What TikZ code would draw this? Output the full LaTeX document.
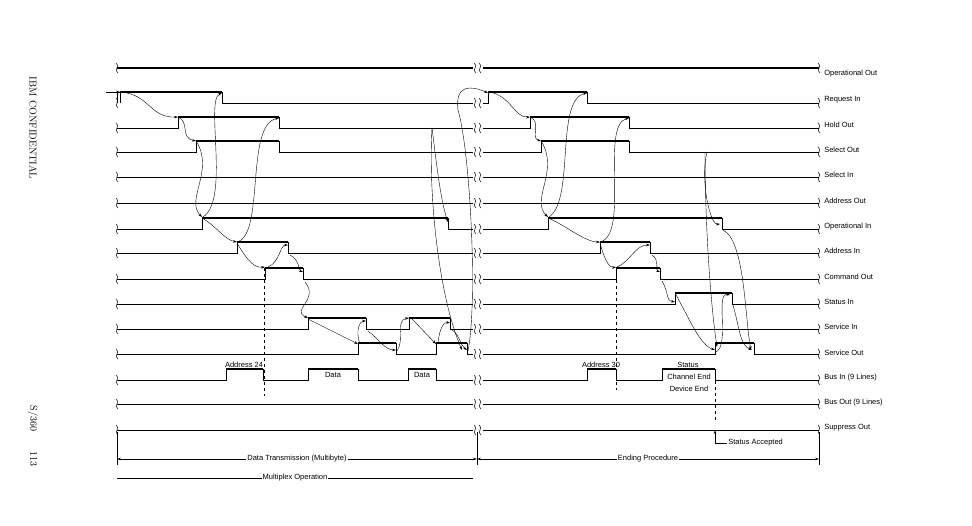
\documentclass[tikz,border=0pt]{standalone}
\usepackage{fontspec}
\setsansfont{Liberation Sans}
\usetikzlibrary{arrows.meta}

\begin{document}
\begin{tikzpicture}[x=1pt,y=-1pt,>={Stealth[length=4pt,width=2.5pt]},
  line width=0.5pt,
  lbl/.style={anchor=west,font=\sffamily\fontsize{7.5}{8}\selectfont,inner sep=1pt},
  txt/.style={font=\sffamily\fontsize{7.5}{8}\selectfont,inner sep=1pt},
  cause/.style={->,line width=0.4pt}]

\useasboundingbox (0,0) rectangle (972,526);

% break mark
\def\brk#1#2{
	\draw[line width=0.5pt] (#1-1,#2-5) .. controls (#1+4,#2-2) and (#1-4,#2+2) .. (#1+1,#2+5);
}
% signal with pulses: x start, x end, low level, list of rise/fall
\def\wave#1#2#3#4{
	\draw (#1,#3) \foreach \a/\b in {#4}{ -- (\a,#3) -- (\a,#3-11) -- (\b,#3-11) -- (\b,#3)} -- (#2,#3);
	\foreach \a/\b in {#4}{\draw[line width=1.4pt] (\a,#3-11) -- (\b,#3-11);}
}

% side texts
\node[rotate=-90,font=\fontsize{10}{11}\selectfont] (conf) at (33,128) {IBM CONFIDENTIAL};
\node[rotate=-90,font=\fontsize{10}{11}\selectfont] (page) at (33,436) {S/360\qquad 113};

% operational out
\draw[line width=1.4pt] (117,68) -- (473,68);
\draw[line width=1.4pt] (483,68) -- (819,68);

% flat lines
\foreach \y in {177,203,404,430}{
	\draw (117,\y) -- (473,\y);
	\draw (483,\y) -- (819,\y);
}

% left section
\wave{120}{473}{103}{120/222}
\draw (117,103) -- (117,92) -- (120,92);
\draw[->] (106,92) -- (120,92);
\wave{117}{473}{128}{178/279}
\wave{117}{473}{152}{196/279}
\wave{117}{473}{229}{202/448}
\wave{117}{473}{253}{237/288}
\wave{117}{473}{279}{265/303}
\wave{117}{473}{304}{}
\wave{117}{473}{329}{308/366,409/450}
\wave{117}{473}{354}{358/396,436/467}
\wave{117}{473}{380}{226/263,308/358,408/436}

% right section
\wave{483}{819}{103}{488/587}
\wave{483}{819}{128}{530/629}
\wave{483}{819}{152}{541/629}
\wave{483}{819}{229}{548/722}
\wave{483}{819}{253}{600/650}
\wave{483}{819}{279}{616/660}
\wave{483}{819}{304}{675/732}
\wave{483}{819}{329}{}
\wave{483}{819}{354}{715/754}
\wave{483}{819}{380}{587/616,662/715}

% break marks
\foreach \y in {68,103,128,152,177,203,229,253,279,304,329,354,380,404,430}{
	\brk{117}{\y}
	\brk{475}{\y}
	\brk{480}{\y}
	\brk{819}{\y}
}

% labels
\foreach \y/\t in {74/Operational Out,100/Request In,125/Hold Out,150/Select Out,
	175/Select In,201/Address Out,227/Operational In,251/Address In,277/Command Out,
	302/Status In,327/Service In,353/Service Out,378/Bus In (9 Lines),
	403/Bus Out (9 Lines),428/Suppress Out}{
	\node[lbl] at (823,\y) {\t};
}

% bus texts
\node[txt,anchor=south] at (244,369) {Address 24};
\node[txt] at (333,375) {Data};
\node[txt] at (422,375) {Data};
\node[txt,anchor=south] at (601,369) {Address 30};
\node[txt,anchor=south] at (688,369) {Status};
\node[txt] at (689,377) {Channel End};
\node[txt] at (689,389) {Device End};

% dashed markers
\draw[dashed] (264,268) -- (264,396);
\draw[dashed] (616,268) -- (616,390);
\draw[dashed] (715,381) -- (715,420);
\draw[->] (715,443) -- (715,430);
\draw (715,443) -- (727,443) node[txt,anchor=west] {Status Accepted};

% causal arrows, left
\draw[cause] (121,92) .. controls (150,95) and (150,118) .. (178,117);
\draw[cause] (178,117) .. controls (190,122) and (180,138) .. (196,141);
\draw[cause] (196,141) .. controls (215,170) and (185,200) .. (202,217);
\draw[cause] (203,217) .. controls (230,200) and (205,100) .. (222,93);
\draw[cause] (202,218) .. controls (215,225) and (225,240) .. (237,242);
\draw[cause] (237,242) .. controls (265,235) and (245,125) .. (279,118);
\draw[cause] (237,243) .. controls (248,262) and (255,268) .. (265,267);
\draw[cause] (268,267) .. controls (280,262) and (280,245) .. (288,245);
\draw[cause] (290,255) .. controls (300,260) and (298,270) .. (303,272);
\draw[cause] (305,282) .. controls (320,300) and (290,310) .. (308,318);
\draw[cause] (308,319) -- (358,344);
\draw[cause] (360,344) .. controls (355,330) and (360,321) .. (366,321);
\draw[cause] (368,331) .. controls (380,340) and (385,350) .. (396,350);
\draw[cause] (397,351) .. controls (405,340) and (395,320) .. (409,318);
\draw[cause] (412,319) -- (436,344);
\draw[cause] (438,343) .. controls (440,325) and (445,322) .. (450,323);
\draw[cause] (452,330) .. controls (460,335) and (460,345) .. (467,350);
\draw[cause] (432,128) .. controls (428,200) and (440,300) .. (462,350);
\draw[cause] (432,128) .. controls (435,150) and (440,200) .. (448,222);
\draw[cause] (468,351) .. controls (478,300) and (470,150) .. (458,110)
	.. controls (455,85) and (470,85) .. (488,93);

% causal arrows, right
\draw[cause] (489,92) .. controls (510,95) and (515,118) .. (530,117);
\draw[cause] (530,117) .. controls (542,122) and (530,138) .. (541,141);
\draw[cause] (541,141) .. controls (560,170) and (530,200) .. (548,217);
\draw[cause] (549,217) .. controls (575,200) and (555,100) .. (587,93);
\draw[cause] (548,218) .. controls (565,225) and (585,242) .. (600,242);
\draw[cause] (600,242) .. controls (630,235) and (600,125) .. (629,118);
\draw[cause] (600,243) .. controls (605,262) and (610,268) .. (616,267);
\draw[cause] (617,267) .. controls (630,262) and (635,245) .. (650,245);
\draw[cause] (652,255) .. controls (660,260) and (655,270) .. (660,272);
\draw[cause] (662,281) .. controls (670,295) and (665,300) .. (675,302);
\draw[cause] (675,293) .. controls (690,320) and (700,345) .. (715,350);
\draw[cause] (716,352) .. controls (730,345) and (715,292) .. (730,295);
\draw[cause] (733,305) .. controls (740,330) and (740,345) .. (752,350);
\draw[cause] (707,152) .. controls (700,180) and (710,225) .. (720,224);
\draw[cause] (723,230) .. controls (745,240) and (745,320) .. (751,350);
\draw[cause] (705,152) .. controls (705,220) and (710,300) .. (717,347);

% spans
\foreach \x in {117,477,819}{\draw (\x,432) -- (\x,465);}
\draw[<->] (117,459) -- node[txt,fill=white] {Data Transmission (Multibyte)} (477,459);
\draw[<->] (477,459) -- node[txt,fill=white] {Ending Procedure} (819,459);
\draw (117,478) -- node[txt,fill=white] {Multiplex Operation} (473,478);

\end{tikzpicture}
\end{document}
